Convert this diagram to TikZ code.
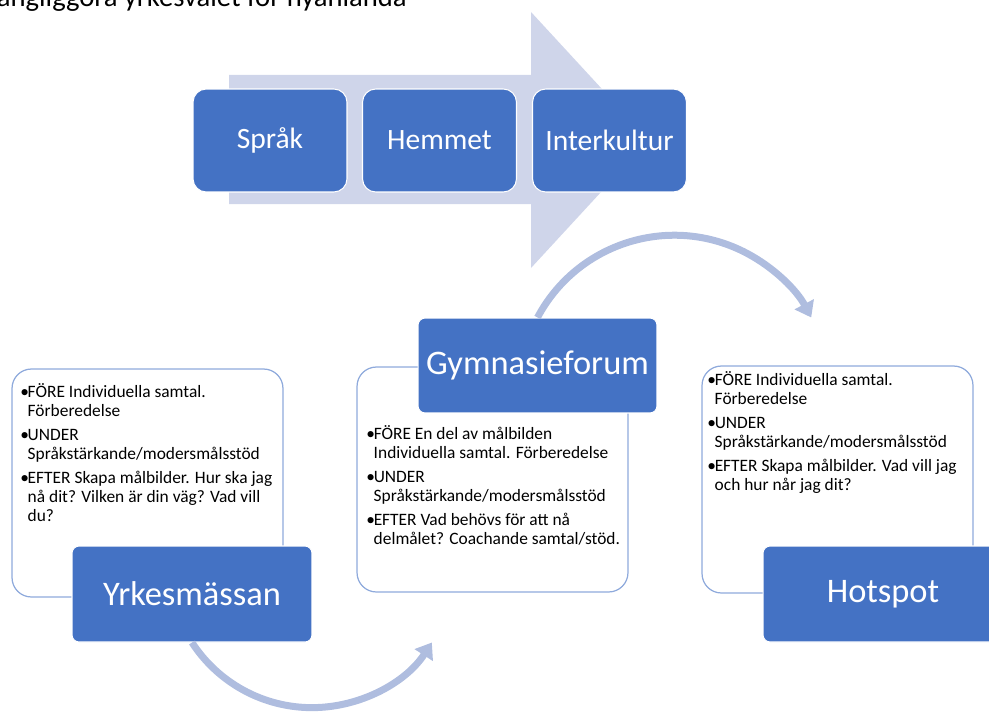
\documentclass[tikz,border=0pt]{standalone}
\usepackage{fontspec}
\setmainfont{Carlito}
\usetikzlibrary{arrows.meta}
\definecolor{boxblue}{HTML}{4472C4}
\definecolor{arrowbg}{HTML}{CFD5EA}
\definecolor{cyclecol}{HTML}{AFBDDF}
\definecolor{framecol}{HTML}{8FAADC}
\newcommand{\bul}{\makebox[4.2pt][l]{\textbullet}}
\newcommand{\ind}{\hspace*{4.2pt}}

\begin{document}
\begin{tikzpicture}[x=0.02cm,y=-0.02cm,
    lbox/.style={rectangle,rounded corners=4pt,fill=boxblue,draw=white,line width=0.6pt,
      text=white,font=\fontsize{19.6}{22}\selectfont},
    tbox/.style={rectangle,rounded corners=11pt,fill=white,draw=framecol,line width=0.7pt,
      minimum width=5.42cm},
    ttext/.style={anchor=north west,inner sep=0pt,align=left,font=\fontsize{9.9}{10.8}\selectfont},
    cyc/.style={draw=cyclecol,line width=0.14cm,-{Triangle[width=0.42cm,length=0.3cm]}}]
    \tikzstyle{top}=[lbox,minimum width=3.08cm,minimum height=2.06cm,rounded corners=7.5pt,
      font=\fontsize{16.8}{20}\selectfont]
    \tikzstyle{step box}=[lbox,minimum width=4.8cm,minimum height=1.92cm]
    \useasboundingbox (0,0) rectangle (989,713);
    \node[anchor=base east,inner sep=0pt,font=\fontsize{16.3}{18}\selectfont] (title) at (407,7)
      {ängliggöra yrkesvalet för nyanlända};
    % big arrow
    \fill[arrowbg] (229,75) -- (531,75) -- (531,12) -- (649,140) -- (531,268)
      -- (531,204) -- (229,204) -- cycle;
    \node[top] (sprak) at (270,140.5) {Språk};
    \node[top] (hemmet) at (439.5,140.5) {Hemmet};
    \node[top] (inter) at (609.5,140.5) {Interkultur};
    % text boxes
    \node[tbox,minimum height=4.56cm] (yrkbox) at (147.5,483) {};
    \node[tbox,minimum height=4.5cm] (gymbox) at (492.5,479.5) {};
    \node[tbox,minimum height=4.54cm] (hotbox) at (837.5,479.5) {};
    \node[ttext] (yrktext) at (20,383) {\bul FÖRE Individuella samtal.\\
      \ind Förberedelse\\[3pt]
      \bul UNDER\\
      \ind Språkstärkande/modersmålsstöd\\[3pt]
      \bul EFTER Skapa målbilder. Hur ska jag\\
      \ind nå dit? Vilken är din väg? Vad vill\\
      \ind du?};
    \node[ttext] (gymtext) at (366,425) {\bul FÖRE En del av målbilden\\
      \ind Individuella samtal. Förberedelse\\[3pt]
      \bul UNDER\\
      \ind Språkstärkande/modersmålsstöd\\[3pt]
      \bul EFTER Vad behövs för att nå\\
      \ind delmålet? Coachande samtal/stöd.};
    \node[ttext] (hottext) at (707,371) {\bul FÖRE Individuella samtal.\\
      \ind Förberedelse\\[3pt]
      \bul UNDER\\
      \ind Språkstärkande/modersmålsstöd\\[3pt]
      \bul EFTER Skapa målbilder. Vad vill jag\\
      \ind och hur når jag dit?};
    % steps
    \node[step box] (yrk) at (192,594) {Yrkesmässan};
    \node[step box,minimum width=4.78cm,minimum height=1.9cm] (gym) at (537.5,365.5) {Gymnasieforum};
    \node[step box] (hot) at (883,594) {Hotspot};
    \draw[cyc] (gym.north) arc[start angle=-152,end angle=-28,radius=155];
    \draw[cyc] (yrk.south) arc[start angle=147,end angle=33,radius=143];
\end{tikzpicture}
\end{document}
